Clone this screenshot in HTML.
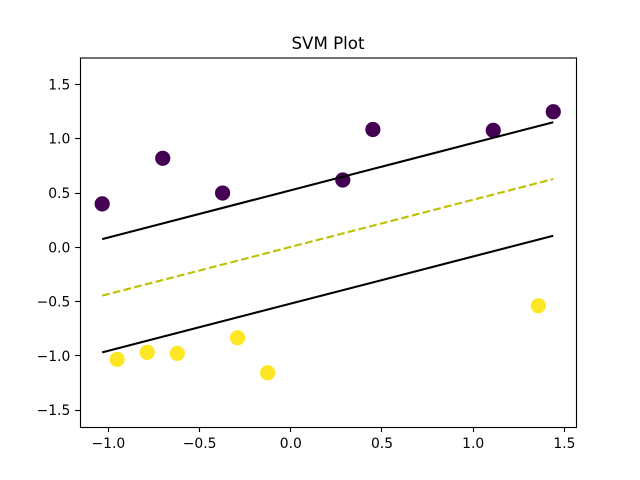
<!DOCTYPE html>
<html>
<head>
<meta charset="utf-8">
<title>SVM Plot</title>
<style>
html,body{margin:0;padding:0;background:#fff;}
svg{display:block;font-family:"DejaVu Sans","Liberation Sans",sans-serif;}
</style>
</head>
<body>
<svg id="chart" xmlns="http://www.w3.org/2000/svg" width="640" height="480" viewBox="0 0 640 480">
<rect x="0" y="0" width="640" height="480" fill="#ffffff"/>
<text x="328" y="49" font-size="16.67" text-anchor="middle" fill="#000">SVM Plot</text>
<g id="marks"></g>
<g id="axes"></g>
<rect x="80.5" y="58" width="496" height="369.5" fill="none" stroke="#000" stroke-width="1.11"/>
</svg>
<script>
var class0X = [-1.034, -0.702, -0.374, 0.285, 0.450, 1.110, 1.439];
var class0Y = [0.40, 0.82, 0.50, 0.62, 1.085, 1.077, 1.249];
var class1X = [-0.952, -0.787, -0.622, -0.292, -0.127, 1.357];
var class1Y = [-1.031, -0.967, -0.976, -0.832, -1.155, -0.538];
var lineX = [-1.034, 1.439];
var upperMarginY = [0.076, 1.152];
var decisionY = [-0.445, 0.629];
var lowerMarginY = [-0.967, 0.107];
var xTicks = [-1.0, -0.5, 0.0, 0.5, 1.0, 1.5];
var yTicks = [-1.5, -1.0, -0.5, 0.0, 0.5, 1.0, 1.5];
var xDomain = [-1.1557, 1.5636];
var yDomain = [-1.6561, 1.7472];

var NS = 'http://www.w3.org/2000/svg';
var plotLeft = 80, plotRight = 576, plotTop = 57.6, plotBottom = 427.2;
function sx(v) {
  return plotLeft + (v - xDomain[0]) / (xDomain[1] - xDomain[0]) * (plotRight - plotLeft);
}
function sy(v) {
  return plotBottom - (v - yDomain[0]) / (yDomain[1] - yDomain[0]) * (plotBottom - plotTop);
}
function snap(p) {
  return Math.floor(p) + 0.5;
}
function fmt(v) {
  var s = Math.abs(v).toFixed(1);
  return v < 0 ? '\u2212' + s : s;
}
var marks = document.getElementById('marks');
var axes = document.getElementById('axes');

function drawPoints(xs, ys, color, name) {
  for (var i = 0; i < xs.length; i++) {
    var c = document.createElementNS(NS, 'circle');
    
    
    c.setAttribute('cx', sx(xs[i]));
    c.setAttribute('cy', sy(ys[i]));
    c.setAttribute('r', 7.6);
    c.setAttribute('fill', color);
    marks.appendChild(c);
  }
}
drawPoints(class0X, class0Y, '#440154', 'class-0-point');
drawPoints(class1X, class1Y, '#fde725', 'class-1-point');

function drawLine(ys, color, dash, name) {
  var l = document.createElementNS(NS, 'line');
  
  
  l.setAttribute('x1', sx(lineX[0]));
  l.setAttribute('y1', sy(ys[0]));
  l.setAttribute('x2', sx(lineX[1]));
  l.setAttribute('y2', sy(ys[1]));
  l.setAttribute('stroke', color);
  l.setAttribute('stroke-width', 2.08);
  if (dash) l.setAttribute('stroke-dasharray', dash);
  marks.appendChild(l);
}
drawLine(upperMarginY, '#000000', '', 'upper-margin-line');
drawLine(decisionY, '#bfbf00', '7.7 3.33', 'decision-boundary-line');
drawLine(lowerMarginY, '#000000', '', 'lower-margin-line');

xTicks.forEach(function (v) {
  var px = snap(sx(v));
  var t = document.createElementNS(NS, 'line');
  
  
  t.setAttribute('x1', px);
  t.setAttribute('x2', px);
  t.setAttribute('y1', 427.2);
  t.setAttribute('y2', 432.06);
  t.setAttribute('stroke', '#000');
  t.setAttribute('stroke-width', 1.11);
  axes.appendChild(t);
  var lab = document.createElementNS(NS, 'text');
  
  
  lab.setAttribute('x', sx(v));
  lab.setAttribute('y', 448);
  lab.setAttribute('font-size', 13.89);
  lab.setAttribute('text-anchor', 'middle');
  lab.textContent = fmt(v);
  axes.appendChild(lab);
});

yTicks.forEach(function (v) {
  var py = snap(sy(v));
  var t = document.createElementNS(NS, 'line');
  
  
  t.setAttribute('x1', 75.14);
  t.setAttribute('x2', 80);
  t.setAttribute('y1', py);
  t.setAttribute('y2', py);
  t.setAttribute('stroke', '#000');
  t.setAttribute('stroke-width', 1.11);
  axes.appendChild(t);
  var lab = document.createElementNS(NS, 'text');
  
  
  lab.setAttribute('x', 70.3);
  lab.setAttribute('y', sy(v) + 5);
  lab.setAttribute('font-size', 13.89);
  lab.setAttribute('text-anchor', 'end');
  lab.textContent = fmt(v);
  axes.appendChild(lab);
});
</script>
</body>
</html>
